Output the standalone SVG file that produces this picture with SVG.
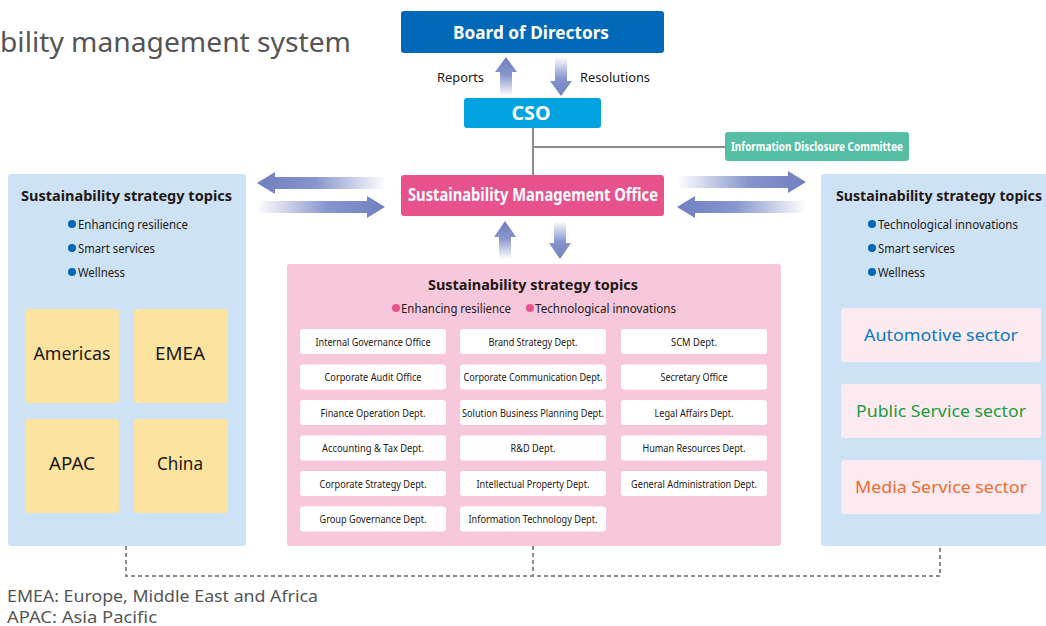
<svg xmlns="http://www.w3.org/2000/svg" width="1046" height="626" viewBox="0 0 1046 626">
<defs>
<linearGradient id="gL" x1="0" y1="0" x2="1" y2="0"><stop offset="0" stop-color="#7080c0"/><stop offset="0.45" stop-color="#8795cc"/><stop offset="1" stop-color="#ffffff"/></linearGradient>
<linearGradient id="gR" x1="1" y1="0" x2="0" y2="0"><stop offset="0" stop-color="#7080c0"/><stop offset="0.45" stop-color="#8795cc"/><stop offset="1" stop-color="#ffffff"/></linearGradient>
<linearGradient id="gU" x1="0" y1="0" x2="0" y2="1"><stop offset="0" stop-color="#7080c0"/><stop offset="0.45" stop-color="#8795cc"/><stop offset="1" stop-color="#ffffff"/></linearGradient>
<linearGradient id="gD" x1="0" y1="1" x2="0" y2="0"><stop offset="0" stop-color="#7080c0"/><stop offset="0.45" stop-color="#8795cc"/><stop offset="1" stop-color="#ffffff"/></linearGradient>
<style>
text{font-family:"Noto Sans","DejaVu Sans",sans-serif;fill:#231815}
.w{fill:#fff;font-weight:bold}
.h{font-weight:bold;font-size:15px}
.b{font-size:12.5px}
.d{font-size:11px;text-anchor:middle}
.dept{fill:#fff}
.reg{fill:#fce4a0}
.rt{font-size:18px;text-anchor:middle}
.sec{fill:#fbebf1}
.st{font-size:17px;text-anchor:middle}
.ln{stroke:#8c8c8c;stroke-width:2;fill:none}
.dash{stroke:#8c8c8c;stroke-width:2;fill:none;stroke-dasharray:4 3}
.fn{font-size:17px;fill:#555}
.bb{fill:#0068b7}
.pb{fill:#e8528c}
</style>
</defs>

<text x="0" y="52" font-size="28" style="fill:#555" textLength="351" lengthAdjust="spacingAndGlyphs">bility management system</text>

<g id="connectors">
<path class="ln" d="M533,128 V175 M533,147 H725"/>
<path class="dash" d="M126,546 V576 H940 V546 M533,546 V576"/>
<path fill="url(#gU)" d="M506,57 L517,72 L512,72 L512,96 L500,96 L500,72 L495,72 Z"/>
<path fill="url(#gD)" d="M561,96 L550,81 L555,81 L555,57 L567,57 L567,81 L572,81 Z"/>
<path fill="url(#gU)" d="M505,221 L516,237 L511,237 L511,259 L499,259 L499,237 L494,237 Z"/>
<path fill="url(#gD)" d="M560,259 L549,243 L554,243 L554,221 L566,221 L566,243 L571,243 Z"/>
<path fill="url(#gL)" d="M257,183 L275,172 L275,177 L386,177 L386,189 L275,189 L275,194 Z"/>
<path fill="url(#gR)" d="M385,207 L367,196 L367,201 L257,201 L257,213 L367,213 L367,218 Z"/>
<path fill="url(#gR)" d="M806,182 L788,171 L788,176 L677,176 L677,188 L788,188 L788,193 Z"/>
<path fill="url(#gL)" d="M677,207 L695,196 L695,201 L806,201 L806,213 L695,213 L695,218 Z"/>
<text x="484" y="81.5" font-size="13" text-anchor="end" textLength="47" lengthAdjust="spacingAndGlyphs">Reports</text>
<text x="580" y="81.5" font-size="13" textLength="70" lengthAdjust="spacingAndGlyphs">Resolutions</text>
</g>

<g id="board">
<rect x="401" y="11" width="263" height="42" rx="3" fill="#0068b7"/>
<text class="w" x="531" y="38.5" font-size="17" text-anchor="middle" textLength="156" lengthAdjust="spacingAndGlyphs">Board of Directors</text>
</g>

<g id="cso">
<rect x="464" y="98" width="137" height="30" rx="3" fill="#00a3e0"/>
<text class="w" x="531" y="119.5" font-size="19" text-anchor="middle" textLength="39" lengthAdjust="spacingAndGlyphs">CSO</text>
</g>

<g id="idc">
<rect x="725" y="132" width="184" height="29" rx="3" fill="#55bea5"/>
<text class="w" x="817" y="151" font-size="12" text-anchor="middle" textLength="172" lengthAdjust="spacingAndGlyphs">Information Disclosure Committee</text>
</g>

<g id="smo">
<rect x="401" y="175" width="263" height="41" rx="3" fill="#e8528c"/>
<text class="w" x="533" y="201" font-size="17" text-anchor="middle" textLength="250" lengthAdjust="spacingAndGlyphs">Sustainability Management Office</text>
</g>

<g id="left-panel">
<rect x="8" y="174" width="238" height="372" rx="3" fill="#cde3f5"/>
<text class="h" x="21" y="201" textLength="211" lengthAdjust="spacingAndGlyphs">Sustainability strategy topics</text>
<circle class="bb" cx="72" cy="224" r="4"/>
<text class="b" x="78" y="228.5" textLength="110" lengthAdjust="spacingAndGlyphs">Enhancing resilience</text>
<circle class="bb" cx="72" cy="248" r="4"/>
<text class="b" x="78" y="252.5" textLength="77" lengthAdjust="spacingAndGlyphs">Smart services</text>
<circle class="bb" cx="72" cy="272" r="4"/>
<text class="b" x="78" y="276.5" textLength="47" lengthAdjust="spacingAndGlyphs">Wellness</text>
</g>

<g id="americas"><rect class="reg" x="25" y="309" width="94" height="94" rx="3"/><text class="rt" x="72" y="360" textLength="77" lengthAdjust="spacingAndGlyphs">Americas</text></g>
<g id="emea"><rect class="reg" x="134" y="309" width="94" height="94" rx="3"/><text class="rt" x="180" y="360" textLength="50" lengthAdjust="spacingAndGlyphs">EMEA</text></g>
<g id="apac"><rect class="reg" x="25" y="419" width="94" height="94" rx="3"/><text class="rt" x="72" y="470" textLength="46" lengthAdjust="spacingAndGlyphs">APAC</text></g>
<g id="china"><rect class="reg" x="134" y="419" width="94" height="94" rx="3"/><text class="rt" x="180" y="470" textLength="46" lengthAdjust="spacingAndGlyphs">China</text></g>

<g id="center-panel">
<rect x="287" y="264" width="494" height="282" rx="3" fill="#f7c8db"/>
<text class="h" x="533" y="289.5" text-anchor="middle" textLength="210" lengthAdjust="spacingAndGlyphs">Sustainability strategy topics</text>
<circle class="pb" cx="396" cy="308" r="4"/>
<text class="b" x="401" y="312.5" textLength="110" lengthAdjust="spacingAndGlyphs">Enhancing resilience</text>
<circle class="pb" cx="530" cy="308" r="4"/>
<text class="b" x="535" y="312.5" textLength="141" lengthAdjust="spacingAndGlyphs">Technological innovations</text>
</g>

<g id="d1"><rect class="dept" x="300" y="329" width="146" height="25" rx="3"/><text class="d" x="373" y="345.5" textLength="115" lengthAdjust="spacingAndGlyphs">Internal Governance Office</text></g>
<g id="d2"><rect class="dept" x="460" y="329" width="146" height="25" rx="3"/><text class="d" x="533" y="345.5" textLength="89" lengthAdjust="spacingAndGlyphs">Brand Strategy Dept.</text></g>
<g id="d3"><rect class="dept" x="621" y="329" width="146" height="25" rx="3"/><text class="d" x="694" y="345.5" textLength="46" lengthAdjust="spacingAndGlyphs">SCM Dept.</text></g>
<g id="d4"><rect class="dept" x="300" y="364.5" width="146" height="25" rx="3"/><text class="d" x="373" y="381" textLength="97" lengthAdjust="spacingAndGlyphs">Corporate Audit Office</text></g>
<g id="d5"><rect class="dept" x="460" y="364.5" width="146" height="25" rx="3"/><text class="d" x="533" y="381" textLength="139" lengthAdjust="spacingAndGlyphs">Corporate Communication Dept.</text></g>
<g id="d6"><rect class="dept" x="621" y="364.5" width="146" height="25" rx="3"/><text class="d" x="694" y="381" textLength="67" lengthAdjust="spacingAndGlyphs">Secretary Office</text></g>
<g id="d7"><rect class="dept" x="300" y="400" width="146" height="25" rx="3"/><text class="d" x="373" y="416.5" textLength="105" lengthAdjust="spacingAndGlyphs">Finance Operation Dept.</text></g>
<g id="d8"><rect class="dept" x="460" y="400" width="146" height="25" rx="3"/><text class="d" x="533" y="416.5" textLength="142" lengthAdjust="spacingAndGlyphs">Solution Business Planning Dept.</text></g>
<g id="d9"><rect class="dept" x="621" y="400" width="146" height="25" rx="3"/><text class="d" x="694" y="416.5" textLength="79" lengthAdjust="spacingAndGlyphs">Legal Affairs Dept.</text></g>
<g id="d10"><rect class="dept" x="300" y="435.5" width="146" height="25" rx="3"/><text class="d" x="373" y="452" textLength="102" lengthAdjust="spacingAndGlyphs">Accounting &amp; Tax Dept.</text></g>
<g id="d11"><rect class="dept" x="460" y="435.5" width="146" height="25" rx="3"/><text class="d" x="533" y="452" textLength="45" lengthAdjust="spacingAndGlyphs">R&amp;D Dept.</text></g>
<g id="d12"><rect class="dept" x="621" y="435.5" width="146" height="25" rx="3"/><text class="d" x="694" y="452" textLength="103" lengthAdjust="spacingAndGlyphs">Human Resources Dept.</text></g>
<g id="d13"><rect class="dept" x="300" y="471" width="146" height="25" rx="3"/><text class="d" x="373" y="487.5" textLength="107" lengthAdjust="spacingAndGlyphs">Corporate Strategy Dept.</text></g>
<g id="d14"><rect class="dept" x="460" y="471" width="146" height="25" rx="3"/><text class="d" x="533" y="487.5" textLength="113" lengthAdjust="spacingAndGlyphs">Intellectual Property Dept.</text></g>
<g id="d15"><rect class="dept" x="621" y="471" width="146" height="25" rx="3"/><text class="d" x="694" y="487.5" textLength="126" lengthAdjust="spacingAndGlyphs">General Administration Dept.</text></g>
<g id="d16"><rect class="dept" x="300" y="506.5" width="146" height="25" rx="3"/><text class="d" x="373" y="523" textLength="107" lengthAdjust="spacingAndGlyphs">Group Governance Dept.</text></g>
<g id="d17"><rect class="dept" x="460" y="506.5" width="146" height="25" rx="3"/><text class="d" x="533" y="523" textLength="129" lengthAdjust="spacingAndGlyphs">Information Technology Dept.</text></g>

<g id="right-panel">
<rect x="821" y="174" width="240" height="372" rx="3" fill="#cde3f5"/>
<text x="836" y="201" style="font-weight:bold;font-size:14.2px" textLength="206" lengthAdjust="spacingAndGlyphs">Sustainability strategy topics</text>
<circle class="bb" cx="872" cy="224" r="4"/>
<text class="b" x="878" y="228.5" textLength="140" lengthAdjust="spacingAndGlyphs">Technological innovations</text>
<circle class="bb" cx="872" cy="248" r="4"/>
<text class="b" x="878" y="252.5" textLength="77" lengthAdjust="spacingAndGlyphs">Smart services</text>
<circle class="bb" cx="872" cy="272" r="4"/>
<text class="b" x="878" y="276.5" textLength="47" lengthAdjust="spacingAndGlyphs">Wellness</text>
</g>

<g id="automotive"><rect class="sec" x="841" y="308" width="200" height="54" rx="3"/><text class="st" x="941" y="341" style="fill:#0b78c2" textLength="154" lengthAdjust="spacingAndGlyphs">Automotive sector</text></g>
<g id="public"><rect class="sec" x="841" y="384" width="200" height="54" rx="3"/><text class="st" x="941" y="417" style="fill:#1a9b40" textLength="170" lengthAdjust="spacingAndGlyphs">Public Service sector</text></g>
<g id="media"><rect class="sec" x="841" y="460" width="200" height="54" rx="3"/><text class="st" x="941" y="493" style="fill:#ee6a2e" textLength="172" lengthAdjust="spacingAndGlyphs">Media Service sector</text></g>

<text class="fn" x="7" y="602" textLength="311" lengthAdjust="spacingAndGlyphs">EMEA: Europe, Middle East and Africa</text>
<text class="fn" x="7" y="623" textLength="150" lengthAdjust="spacingAndGlyphs">APAC: Asia Pacific</text>
</svg>
